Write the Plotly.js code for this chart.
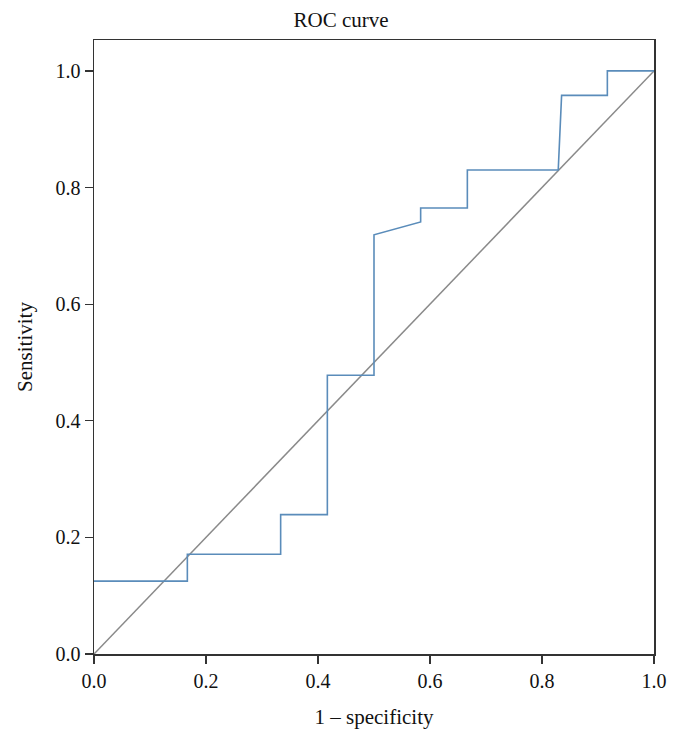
<!DOCTYPE html>
<html>
<head>
<meta charset="utf-8">
<script src="https://cdn.plot.ly/plotly-3.0.1.min.js"></script>
<style>html,body{margin:0;padding:0;background:#fff;}#chart{width:682px;height:742px;}</style>
</head>
<body>
<div id="chart"></div>
<script>
// ROC curve points (1 - specificity, sensitivity)
const rocX = [0.0, 0.1667, 0.1667, 0.3333, 0.3333, 0.4167, 0.4167, 0.5, 0.5, 0.5833, 0.5833, 0.6667, 0.6667, 0.829, 0.835, 0.9167, 0.9167, 1.0];
const rocY = [0.125, 0.125, 0.171, 0.171, 0.239, 0.239, 0.478, 0.478, 0.719, 0.741, 0.765, 0.765, 0.830, 0.830, 0.958, 0.958, 1.0, 1.0];
const refX = [0.0, 1.0];
const refY = [0.0, 1.0];
const tickVals = [0.0, 0.2, 0.4, 0.6, 0.8, 1.0];
const tickText = ["0.0", "0.2", "0.4", "0.6", "0.8", "1.0"];

const fam = "Liberation Serif, Times New Roman, serif";
const txt = "#111";

const traces = [
  {x: refX, y: refY, mode: "lines", line: {color: "#8a8a8a", width: 1.5}, hoverinfo: "skip", showlegend: false},
  {x: rocX, y: rocY, mode: "lines", line: {color: "#5a8cba", width: 1.6}, showlegend: false}
];

const layout = {
  width: 682, height: 742,
  margin: {l: 94, r: 28, t: 40, b: 88},
  paper_bgcolor: "#fff", plot_bgcolor: "#fff",
  font: {family: fam, size: 20, color: txt},
  showlegend: false,
  title: {text: "ROC curve", font: {family: fam, size: 21, color: txt}, x: 0.5, xanchor: "center", y: 0.973, yanchor: "middle"},
  xaxis: {
    range: [0, 1], tickvals: tickVals, ticktext: tickText,
    showgrid: false, zeroline: false,
    showline: true, linecolor: "#333", linewidth: 1.5, mirror: true,
    ticks: "outside", ticklen: 8, tickcolor: "#333", tickwidth: 1.2,
    tickfont: {family: fam, size: 20, color: txt},
    title: {text: "1 – specificity", font: {family: fam, size: 21, color: txt}, standoff: 19}
  },
  yaxis: {
    range: [0, 1.053], tickvals: tickVals, ticktext: tickText,
    showgrid: false, zeroline: false,
    showline: true, linecolor: "#333", linewidth: 1.5, mirror: true,
    ticks: "outside", ticklen: 8, tickcolor: "#333", tickwidth: 1.2,
    tickfont: {family: fam, size: 20, color: txt},
    title: {text: "Sensitivity", font: {family: fam, size: 21, color: txt}, standoff: 17}
  }
};

Plotly.newPlot("chart", traces, layout, {displayModeBar: false, staticPlot: true});
</script>
</body>
</html>
